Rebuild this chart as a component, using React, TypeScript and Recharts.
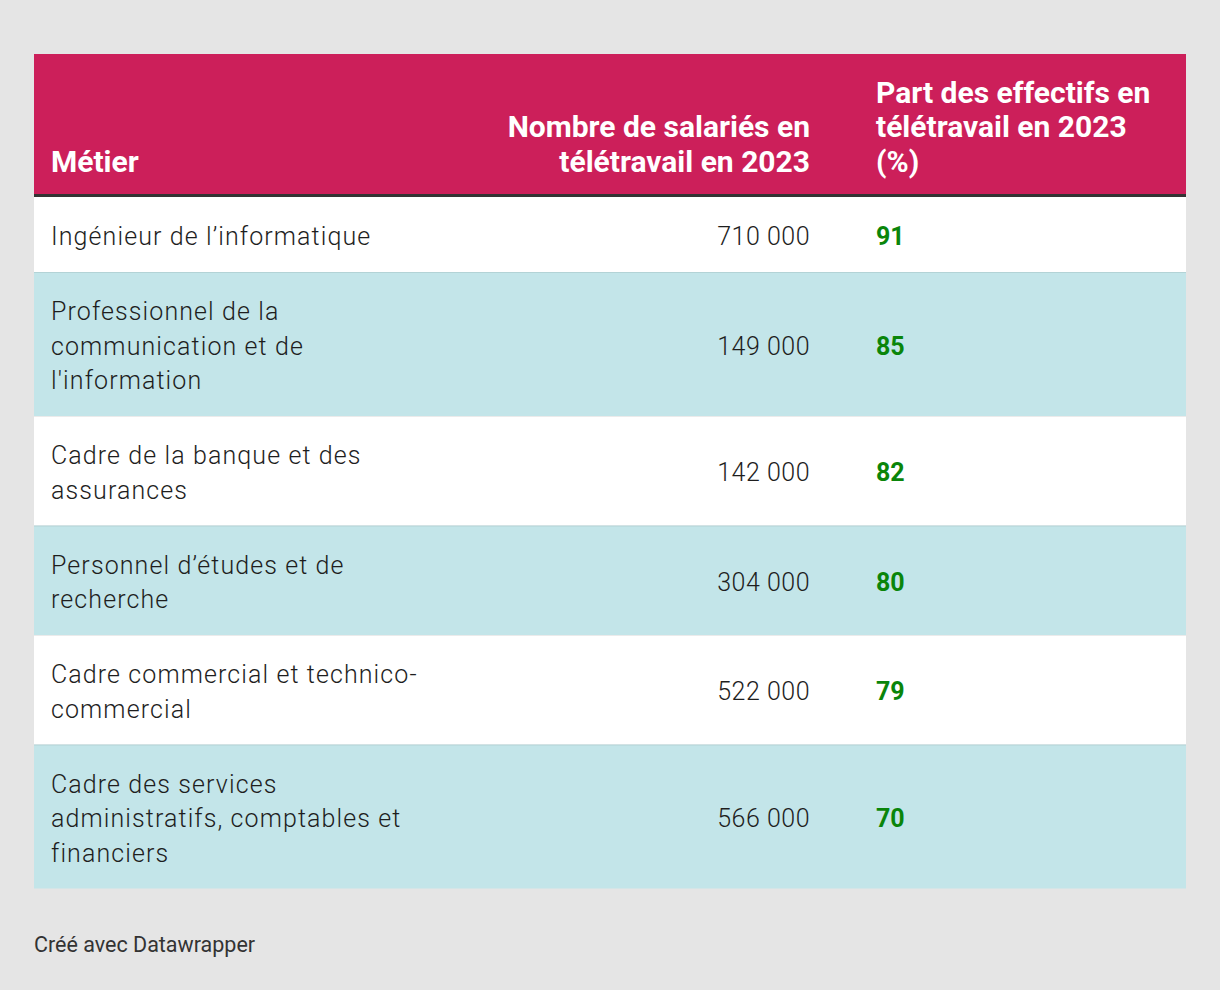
import React from "react";
import { ComposedChart, XAxis, YAxis, ReferenceArea, ReferenceLine } from "recharts";

// ---- Data ----
const headers = [
  "Métier",
  "Nombre de salariés en\ntélétravail en 2023",
  "Part des effectifs en\ntélétravail en 2023\n(%)",
];
const metiers = [
  "Ingénieur de l’informatique",
  "Professionnel de la\ncommunication et de\nl'information",
  "Cadre de la banque et des\nassurances",
  "Personnel d’études et de\nrecherche",
  "Cadre commercial et technico-\ncommercial",
  "Cadre des services\nadministratifs, comptables et\nfinanciers",
];
const salaries = [710000, 149000, 142000, 304000, 522000, 566000];
const parts = [91, 85, 82, 80, 79, 70];
const footer = "Créé avec Datawrapper";

// ---- Layout ----
const W = 1152;
const H = 836;
const HEADER_H = 140;
const RULE_H = 3;
const LINE_H = 34.5;
const ROW_PAD = 40.5;
const COL1_X = 17;
const COL2_RIGHT = 776;
const COL3_X = 842;
const FONT = "Roboto, 'Noto Sans', sans-serif";
const PINK = "#cc1f5a";
const BLUE = "#c3e5e9";
const GREEN = "#0a850a";
const TEXT = "#1e1e1e";

const fmt = (n: number) => String(n).replace(/\B(?=(\d{3})+(?!\d))/g, " ");

type Row = { lines: string[]; sal: number; part: number; y1: number; y2: number; idx: number };
const rows: Row[] = (() => {
  let acc = HEADER_H + RULE_H;
  return metiers.map((m, i) => {
    const lines = m.split("\n");
    const h = ROW_PAD + LINE_H * lines.length;
    const r = { lines, sal: salaries[i], part: parts[i], y1: acc, y2: acc + h, idx: i };
    acc += h;
    return r;
  });
})();

const RowCells = (props: any) => {
  const { viewBox, row } = props;
  if (!viewBox) return null;
  const { x, y, height } = viewBox;
  const base = y + height / 2 + 10.5;
  const n = row.lines.length;
  return (
    <g fontFamily={FONT} fontSize={25}>
      {row.lines.map((l: string, i: number) => (
        <text
          key={i}
          x={x + COL1_X}
          y={base + (i - (n - 1) / 2) * LINE_H}
          fill={TEXT}
          fontWeight={300}
          letterSpacing={1.1}
        >
          {l}
        </text>
      ))}
      <text x={x + COL2_RIGHT} y={base} textAnchor="end" fill={TEXT} fontWeight={300} letterSpacing={0.5}>
        {fmt(row.sal)}
      </text>
      <text x={x + COL3_X} y={base} fill={GREEN} fontWeight={700} fontSize={25}>
        {row.part}
      </text>
    </g>
  );
};

const HeaderCells = (props: any) => {
  const { viewBox } = props;
  if (!viewBox) return null;
  const { x, y } = viewBox;
  const lastBase = y + 117.5;
  const cols = [
    { x: x + COL1_X, anchor: "start" },
    { x: x + COL2_RIGHT, anchor: "end" },
    { x: x + COL3_X, anchor: "start" },
  ];
  return (
    <g fontFamily={FONT} fontSize={30} fontWeight={700} fill="#ffffff">
      {headers.map((h, c) => {
        const lines = h.split("\n");
        const n = lines.length;
        return lines.map((l, i) => (
          <text
            key={c + "-" + i}
            x={cols[c].x}
            y={lastBase - (n - 1 - i) * LINE_H}
            textAnchor={cols[c].anchor as any}
          >
            {l}
          </text>
        ));
      })}
    </g>
  );
};

export default function App() {
  return (
    <div
      style={{
        position: "absolute",
        left: 0,
        top: 0,
        width: 1220,
        height: 990,
        background: "#e5e5e5",
        overflow: "hidden",
      }}
    >
      <div style={{ position: "absolute", left: 34, top: 54 }}>
        <ComposedChart width={W} height={H} data={rows} margin={{ top: 0, right: 0, bottom: 0, left: 0 }}>
          <XAxis type="number" dataKey="sal" domain={[0, W]} hide allowDataOverflow />
          <YAxis type="number" domain={[0, H]} reversed hide allowDataOverflow />
          <ReferenceArea
            x1={0}
            x2={W}
            y1={0}
            y2={HEADER_H}
            fill={PINK}
            fillOpacity={1}
            stroke="none"
            label={(p: any) => <HeaderCells viewBox={p.viewBox} />}
          />
          <ReferenceArea x1={0} x2={W} y1={HEADER_H} y2={HEADER_H + RULE_H} fill="#333333" fillOpacity={1} stroke="none" />
          {rows.map((r) => (
            <ReferenceArea
              key={"row" + r.idx}
              x1={0}
              x2={W}
              y1={r.y1}
              y2={r.y2}
              fill={r.idx % 2 === 0 ? "#ffffff" : BLUE}
              fillOpacity={1}
              stroke="none"
              label={(p: any) => <RowCells viewBox={p.viewBox} row={r} />}
            />
          ))}
          {rows.slice(1).map((r) => (
            <ReferenceLine
              key={"sep" + r.idx}
              y={r.y1 + 0.5}
              stroke="#000000"
              strokeOpacity={0.08}
              strokeWidth={1}
            />
          ))}
        </ComposedChart>
      </div>
      <div
        style={{
          position: "absolute",
          left: 34,
          top: 934,
          fontFamily: FONT,
          fontSize: 21.5,
          lineHeight: "21px",
          color: "#333333",
          whiteSpace: "nowrap",
        }}
      >
        {footer}
      </div>
    </div>
  );
}
